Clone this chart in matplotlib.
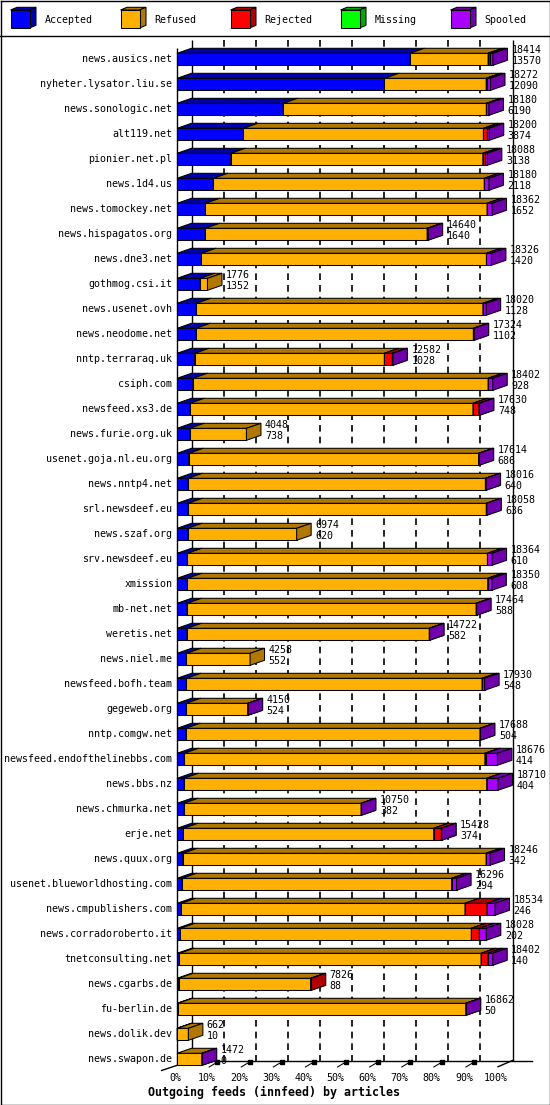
import matplotlib
matplotlib.use("Agg")
import matplotlib.pyplot as plt
from matplotlib.patches import Polygon, Rectangle

#%%
# innfeed outgoing feeds, articles per peer
hosts = ["news.ausics.net", "nyheter.lysator.liu.se", "news.sonologic.net", "alt119.net",
         "pionier.net.pl", "news.1d4.us", "news.tomockey.net", "news.hispagatos.org",
         "news.dne3.net", "gothmog.csi.it", "news.usenet.ovh", "news.neodome.net",
         "nntp.terraraq.uk", "csiph.com", "newsfeed.xs3.de", "news.furie.org.uk",
         "usenet.goja.nl.eu.org", "news.nntp4.net", "srl.newsdeef.eu", "news.szaf.org",
         "srv.newsdeef.eu", "xmission", "mb-net.net", "weretis.net", "news.niel.me",
         "newsfeed.bofh.team", "gegeweb.org", "nntp.comgw.net",
         "newsfeed.endofthelinebbs.com", "news.bbs.nz", "news.chmurka.net", "erje.net",
         "news.quux.org", "usenet.blueworldhosting.com", "news.cmpublishers.com",
         "news.corradoroberto.it", "tnetconsulting.net", "news.cgarbs.de", "fu-berlin.de",
         "news.dolik.dev", "news.swapon.de"]
offered = [18414, 18272, 18180, 18200, 18088, 18180, 18362, 14640, 18326, 1776, 18020,
           17324, 12582, 18402, 17630, 4048, 17614, 18016, 18058, 6974, 18364, 18350,
           17464, 14722, 4258, 17930, 4150, 17688, 18676, 18710, 10750, 15428, 18246,
           16296, 18534, 18028, 18402, 7826, 16862, 662, 1472]
accepted = [13570, 12090, 6190, 3874, 3138, 2118, 1652, 1640, 1420, 1352, 1128, 1102,
            1028, 928, 748, 738, 686, 640, 636, 620, 610, 608, 588, 582, 552, 548, 524,
            504, 414, 404, 382, 374, 342, 294, 246, 202, 140, 88, 50, 10, 0]
refused = [4564, 5932, 11840, 13986, 14690, 15792, 16420, 12940, 16616, 424, 16702,
           16172, 11058, 17204, 16502, 3310, 16888, 17336, 17392, 6354, 17484, 17502,
           16846, 14120, 3706, 17232, 3596, 17154, 17532, 17646, 10348, 14588, 17674,
           15712, 16540, 16952, 17582, 7698, 16782, 652, 1452]
rejected = [110, 60, 0, 230, 150, 0, 0, 0, 0, 0, 0, 0, 466, 0, 350, 0, 0, 0, 0, 0, 0,
            0, 0, 0, 0, 0, 0, 0, 50, 0, 0, 446, 0, 0, 1282, 466, 390, 40, 0, 0, 0]
missing = [0, 0, 0, 0, 0, 0, 0, 0, 0, 0, 0, 0, 0, 0, 0, 0, 0, 0, 0, 0, 0, 0, 0, 0, 0,
           0, 0, 0, 0, 0, 0, 0, 0, 0, 0, 0, 0, 0, 0, 0, 0]
spooled = [170, 190, 150, 110, 110, 270, 290, 60, 290, 0, 190, 50, 30, 270, 30, 0, 40,
           40, 30, 0, 270, 240, 30, 20, 0, 150, 30, 30, 680, 660, 20, 20, 230, 290, 466,
           408, 290, 0, 30, 0, 20]

series = ["Accepted", "Refused", "Rejected", "Missing", "Spooled"]
# front colour, darker colour for top/side faces
colors = [("#0000ff", "#0000a8"), ("#ffb000", "#b07800"), ("#ff0000", "#b00000"),
          ("#00ff00", "#00a800"), ("#aa00ff", "#7000aa")]
pct_ticks = [0, 10, 20, 30, 40, 50, 60, 70, 80, 90, 100]

#%%
font = "DejaVu Sans Mono"
fs = 7.2
lw = 0.75
glw = 1.0   # grid/axis lines
W, H = 550, 1105
fig = plt.figure(figsize=(W / 100, H / 100), dpi=100)
fig.patch.set_facecolor("white")

# plot area: x in percent of the largest feed, y in rows
px0, pxpct = 177.0, 3.21      # pixel of 0 %, pixels per percent
py0, pyrow = 59.3, 25.0       # pixel of first row, pixels per row
ax = fig.add_axes([0, 0, 1, 1])
ax.set_xlim(-px0 / pxpct, (W - px0) / pxpct)
ax.set_ylim((H - py0) / pyrow, -py0 / pyrow)
ax.axis("off")

n = len(hosts)
full = max(offered)
dx = 14.5 / pxpct   # 3d depth
dy = 5.0 / pyrow
h = 6.0 / pyrow
ytop = (40 - py0) / pyrow
fb = (1060.5 - py0) / pyrow   # back edge of the floor
ff = (1067 - py0) / pyrow     # front edge of the floor

# grid at the back wall
back = [p + dx for p in pct_ticks]
ax.vlines(back[1:-1], ytop, fb, colors="k", lw=1.2, linestyles=(0, (4, 3)), zorder=2)
ax.vlines([back[0], back[-1]], ytop, fb, colors="k", lw=glw, zorder=2)
ax.vlines([0], -0.45, ff - 0.1, colors="k", lw=glw, zorder=2)
# floor
ax.plot([dx, 110.6], [fb, fb], color="k", lw=glw, zorder=2)
ax.plot([-4.8, dx], [fb + 2 * dy, fb], color="k", lw=glw, zorder=2)
ax.plot([100, 100 + dx], [fb + dy + 0.05, fb], color="k", lw=glw, zorder=2)
for p in pct_ticks[1:-1]:
    ax.plot([p, p + 2.6], [ff, ff - dy], color="k", lw=lw, zorder=2)
    ax.plot([p + 2.6], [ff - dy], marker="s", ms=2.2, color="k", zorder=2)

for p in pct_ticks:
    ax.text(p - 0.6, (1078 - py0) / pyrow, f"{p}%", ha="center", va="center",
            family=font, fontsize=fs)

#%%
# the 3d stacked bars
for i in range(n):
    segs = [accepted[i], refused[i], rejected[i], missing[i], spooled[i]]
    left = 0.0
    top, bot = i - h, i + h
    for v, (fc, dc) in zip(segs, colors):
        if v <= 0:
            continue
        w = v / full * 100
        x0, x1 = left, left + w
        ax.add_patch(Rectangle((x0, top), w, 2 * h, fc=fc, ec="k", lw=lw, zorder=3))
        ax.add_patch(Polygon([(x0, top), (x1, top), (x1 + dx, top - dy), (x0 + dx, top - dy)],
                             closed=True, fc=dc, ec="k", lw=lw, zorder=3))
        ax.add_patch(Polygon([(x1, top), (x1, bot), (x1 + dx, bot - dy), (x1 + dx, top - dy)],
                             closed=True, fc=dc, ec="k", lw=lw, zorder=3))
        left = x1
    ax.text(-1.5, i, hosts[i], ha="right", va="center", family=font, fontsize=fs)
    xl = left + dx + 4.0 / pxpct
    ax.text(xl, i - 9.0 / pyrow, str(offered[i]), ha="left", va="center",
            family=font, fontsize=fs, zorder=4)
    ax.text(xl, i + 1.5 / pyrow, str(accepted[i]), ha="left", va="center",
            family=font, fontsize=fs, zorder=4)

#%%
# frame, legend and title in pixel space
ax2 = fig.add_axes([0, 0, 1, 1])
ax2.set_xlim(0, W)
ax2.set_ylim(H, 0)
ax2.axis("off")
ax2.plot([0.5, W - 0.5, W - 0.5, 0.5, 0.5], [0.5, 0.5, H - 0.5, H - 0.5, 0.5], color="k", lw=1.0)
ax2.plot([0, W], [35.5, 35.5], color="k", lw=1.0)

for k, (name, (fc, dc)) in enumerate(zip(series, colors)):
    x = 10.5 + 110 * k
    ax2.add_patch(Polygon([(x, 10), (x + 19, 10), (x + 25.5, 7.3), (x + 6.5, 7.3)],
                          closed=True, fc=dc, ec="k", lw=lw))
    ax2.add_patch(Polygon([(x + 19, 10), (x + 19, 28), (x + 25.5, 25.3), (x + 25.5, 7.3)],
                          closed=True, fc=dc, ec="k", lw=lw))
    ax2.add_patch(Rectangle((x, 10), 19, 18, fc=fc, ec="k", lw=lw))
    ax2.text(x + 34, 20, name, ha="left", va="center", family=font, fontsize=fs)

ax2.text(274.5, 1092, "Outgoing feeds (innfeed) by articles", ha="center", va="center",
         family=font, fontsize=8.4, fontweight="bold")

fig.savefig("out.png", dpi=100)
